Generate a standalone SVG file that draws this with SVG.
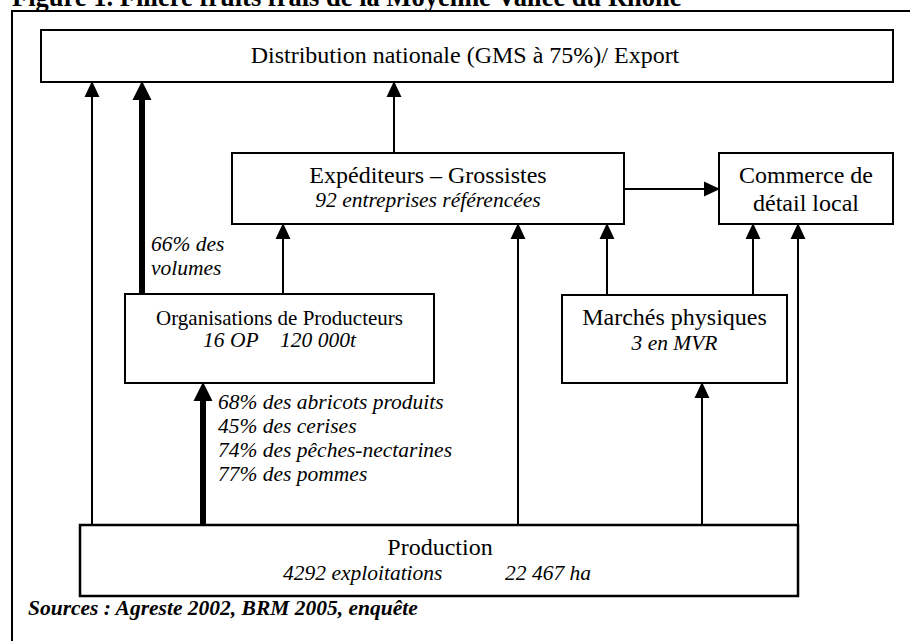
<svg xmlns="http://www.w3.org/2000/svg" width="910" height="641" viewBox="0 0 910 641" font-family="'Liberation Serif', 'DejaVu Serif', serif">
<style>
text{font-family:'Liberation Serif','DejaVu Serif',serif;fill:#000}
.b{font-size:24px}
.op{font-size:21px}
.i{font-size:21.5px;font-style:italic}
.box{fill:#fff;stroke:#000;stroke-width:2}
.thin{stroke:#000;stroke-width:2;fill:none}
.thick{stroke:#000;stroke-width:6;fill:none}
</style>
<defs>
<marker id="ah" markerUnits="userSpaceOnUse" markerWidth="16" markerHeight="16" viewBox="0 0 15 14" refX="0" refY="7" orient="auto" overflow="visible"><path d="M0,0 L15,7 L0,14 z" fill="#000"/></marker>
<marker id="ahT" markerUnits="userSpaceOnUse" markerWidth="19" markerHeight="19" viewBox="0 0 18 18" refX="0" refY="9" orient="auto" overflow="visible"><path d="M0,0 L18,9 L0,18 z" fill="#000"/></marker>
</defs>
<rect width="910" height="641" fill="#fff"/>
<text x="12" y="6" style="font-size:26.5px;font-weight:bold">Figure 1. Filière fruits frais de la Moyenne Vallée du Rhône</text>
<path d="M12,641 L12,11 L910,11" fill="none" stroke="#000" stroke-width="2"/>
<g id="connectors">
<line class="thin" x1="92" y1="525" x2="92" y2="97" marker-end="url(#ah)"/>
<line class="thick" x1="142" y1="294" x2="142" y2="100" marker-end="url(#ahT)"/>
<line class="thin" x1="394" y1="153" x2="394" y2="97" marker-end="url(#ah)"/>
<line class="thin" x1="283" y1="294" x2="283" y2="239" marker-end="url(#ah)"/>
<line class="thick" x1="203" y1="525" x2="203" y2="401" marker-end="url(#ahT)"/>
<line class="thin" x1="518" y1="525" x2="518" y2="239" marker-end="url(#ah)"/>
<line class="thin" x1="607" y1="295" x2="607" y2="239" marker-end="url(#ah)"/>
<line class="thin" x1="753" y1="295" x2="753" y2="239" marker-end="url(#ah)"/>
<line class="thin" x1="798" y1="525" x2="798" y2="239" marker-end="url(#ah)"/>
<line class="thin" x1="702" y1="525" x2="702" y2="398" marker-end="url(#ah)"/>
<line class="thin" x1="625" y1="189" x2="704" y2="189" marker-end="url(#ah)"/>
<text class="i" x="151" y="251">66% des</text>
<text class="i" x="151" y="275">volumes</text>
<text class="i" x="218" y="409">68% des abricots produits</text>
<text class="i" x="218" y="433">45% des cerises</text>
<text class="i" x="218" y="457">74% des pêches-nectarines</text>
<text class="i" x="218" y="481">77% des pommes</text>
</g>
<g id="distribution">
<rect class="box" x="41" y="30" width="852" height="52"/>
<text class="b" x="465" y="63" text-anchor="middle">Distribution nationale (GMS à 75%)/ Export</text>
</g>
<g id="expediteurs">
<rect class="box" x="232" y="153" width="392" height="71"/>
<text class="b" x="428" y="183" text-anchor="middle">Expéditeurs – Grossistes</text>
<text class="i" x="428" y="207" text-anchor="middle">92 entreprises référencées</text>
</g>
<g id="commerce">
<rect class="box" x="719" y="153" width="174" height="71"/>
<text class="b" x="806" y="183" text-anchor="middle">Commerce de</text>
<text class="b" x="806" y="211" text-anchor="middle">détail local</text>
</g>
<g id="op">
<rect class="box" x="125" y="294" width="309" height="89"/>
<text class="op" x="279.5" y="325" text-anchor="middle">Organisations de Producteurs</text>
<text class="i" x="203" y="347">16 OP</text>
<text class="i" x="280" y="347">120 000t</text>
</g>
<g id="marches">
<rect class="box" x="562" y="295" width="225" height="88"/>
<text class="b" x="674.5" y="325" text-anchor="middle">Marchés physiques</text>
<text class="i" x="674.5" y="350" text-anchor="middle">3 en MVR</text>
</g>
<g id="production">
<rect class="box" x="80" y="525" width="718" height="71" style="stroke-width:2.5"/>
<text class="b" x="440" y="555" text-anchor="middle">Production</text>
<text class="i" x="283" y="580">4292 exploitations</text>
<text class="i" x="505" y="580">22 467 ha</text>
</g>
<text x="28" y="615" style="font-size:21.5px;font-weight:bold;font-style:italic">Sources : Agreste 2002, BRM 2005, enquête</text>
</svg>
